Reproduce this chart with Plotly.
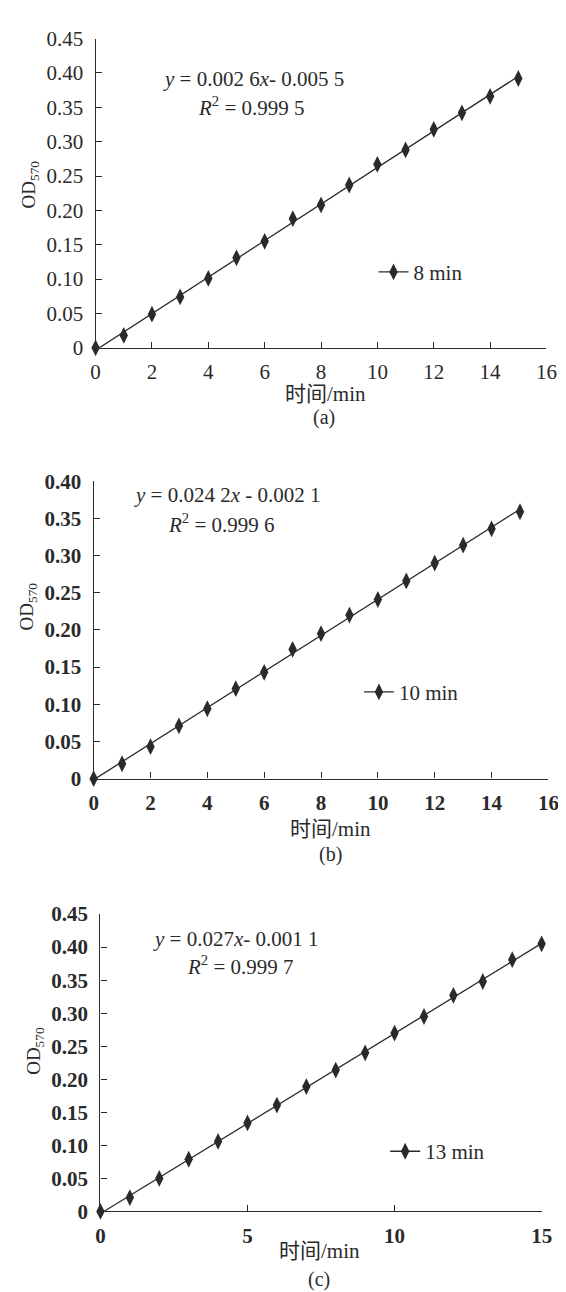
import numpy as np
import plotly.graph_objects as go

W, H = 566, 1292

# ---------------- data ----------------
time_min = list(range(16))
od_a = [0.000, 0.018, 0.049, 0.074, 0.101, 0.131, 0.155, 0.188, 0.208, 0.237,
        0.267, 0.288, 0.318, 0.342, 0.366, 0.392]
od_b = [0.000, 0.020, 0.043, 0.071, 0.094, 0.121, 0.143, 0.174, 0.195, 0.220,
        0.241, 0.266, 0.290, 0.314, 0.336, 0.359]
od_c = [0.000, 0.021, 0.050, 0.079, 0.106, 0.134, 0.161, 0.189, 0.214, 0.240,
        0.270, 0.295, 0.327, 0.348, 0.381, 0.405]

names = ["8 min", "10 min", "13 min"]
panel_labels = ["(a)", "(b)", "(c)"]
eq_texts = ["<i>y</i> = 0.002 6<i>x</i>- 0.005 5",
            "<i>y</i> = 0.024 2<i>x</i> - 0.002 1",
            "<i>y</i> = 0.027<i>x</i>- 0.001 1"]
r2_texts = ["<i>R</i><sup>2</sup> = 0.999 5",
            "<i>R</i><sup>2</sup> = 0.999 6",
            "<i>R</i><sup>2</sup> = 0.999 7"]
y_ticks_a = [0, 0.05, 0.10, 0.15, 0.20, 0.25, 0.30, 0.35, 0.40, 0.45]
y_ticks_b = [0, 0.05, 0.10, 0.15, 0.20, 0.25, 0.30, 0.35, 0.40]
y_ticks_c = [0, 0.05, 0.10, 0.15, 0.20, 0.25, 0.30, 0.35, 0.40, 0.45]
x_ticks_ab = [0, 2, 4, 6, 8, 10, 12, 14, 16]
x_ticks_c = [0, 5, 10, 15]
x_title = "时间/min"
y_title = "OD<sub>570</sub>"

# ---------------- layout geometry (pixels) ----------------
panels = [
    dict(x0=85, x1=549, y0=19, y1=334, xr=[0, 16], yr=[0, 0.45], yt=y_ticks_a, xt=x_ticks_ab,
         od=od_a, bold=False,
         eq=(152, 60), r2=(188, 88), leg=(371, 257),
         yt_pos=(17, 168), xt_pos=(322, 381), lab_pos=(320, 405)),
    dict(x0=83, x1=551, y0=470, y1=773, xr=[0, 16], yr=[0, 0.40], yt=y_ticks_b, xt=x_ticks_ab,
         od=od_b, bold=True,
         eq=(122, 484), r2=(157, 513), leg=(356, 685),
         yt_pos=(15, 598), xt_pos=(327, 824), lab_pos=(327, 850)),
    dict(x0=90, x1=544, y0=911, y1=1214, xr=[0, 15], yr=[0, 0.45], yt=y_ticks_c, xt=x_ticks_c,
         od=od_c, bold=True,
         eq=(142, 936), r2=(177, 963), leg=(383, 1153),
         yt_pos=(23, 1050), xt_pos=(315, 1254), lab_pos=(315, 1283)),
]

ink = "#2a2a2a"
serif = "Liberation Serif, Noto Sans CJK SC, serif"

def px(xp):
    return xp / W

def py(yp):
    return 1 - yp / H

fig = go.Figure()
annotations = []
layout = dict(width=W, height=H, autosize=False,
              margin=dict(l=0, r=0, t=0, b=0),
              paper_bgcolor="white", plot_bgcolor="white",
              font=dict(family=serif, color=ink))

for i, p in enumerate(panels):
    n = "" if i == 0 else str(i + 1)
    xa, ya = "x" + n, "y" + n
    leg_name = "legend" + n
    tick_font = dict(family=serif, size=21, color=ink,
                     weight="bold" if p["bold"] else "normal")

    # trend line from least-squares fit of the series
    m, b = np.polyfit(time_min, p["od"], 1)
    xs = max(0.0, -b / m)
    xfit = [xs, max(time_min)]
    yfit = [m * v + b for v in xfit]
    fig.add_trace(go.Scatter(x=xfit, y=yfit, mode="lines", xaxis=xa, yaxis=ya,
                             line=dict(color=ink, width=1.3), showlegend=False,
                             hoverinfo="skip"))
    fig.add_trace(go.Scatter(x=time_min, y=p["od"], mode="markers", xaxis=xa, yaxis=ya,
                             marker=dict(symbol="diamond-tall", size=12, color=ink),
                             showlegend=False, cliponaxis=False))
    # legend entry (line + marker)
    fig.add_trace(go.Scatter(x=[None], y=[None], mode="lines+markers", xaxis=xa, yaxis=ya,
                             name=names[i], legend=leg_name,
                             marker=dict(symbol="diamond-tall", size=12, color=ink),
                             line=dict(color=ink, width=1.3)))

    layout["xaxis" + n] = dict(domain=[px(p["x0"]), px(p["x1"])], range=p["xr"], anchor=ya,
                               tickvals=p["xt"], ticktext=[str(v) for v in p["xt"]],
                               ticks="inside", ticklen=6, tickcolor=ink, tickwidth=1.2,
                               showline=True, linecolor=ink, linewidth=1.3,
                               showgrid=False, zeroline=False, tickfont=tick_font,
                               ticklabelstandoff=5, fixedrange=True)
    layout["yaxis" + n] = dict(domain=[py(p["y1"]), py(p["y0"])], range=p["yr"], anchor=xa,
                               tickvals=p["yt"],
                               ticktext=["0" if v == 0 else f"{v:.2f}" for v in p["yt"]],
                               ticks="inside", ticklen=6, tickcolor=ink, tickwidth=1.2,
                               showline=True, linecolor=ink, linewidth=1.3,
                               showgrid=False, zeroline=False, tickfont=tick_font,
                               ticklabelstandoff=7, fixedrange=True)
    layout[leg_name] = dict(x=px(p["leg"][0]), y=py(p["leg"][1]), xanchor="left",
                            yanchor="middle", bgcolor="rgba(0,0,0,0)",
                            font=dict(family=serif, size=21, color=ink),
                            itemwidth=30, tracegroupgap=0)

    annotations += [
        dict(text=eq_texts[i], x=px(p["eq"][0]), y=py(p["eq"][1]), xref="paper", yref="paper",
             xanchor="left", yanchor="middle", showarrow=False,
             font=dict(family=serif, size=21, color=ink)),
        dict(text=r2_texts[i], x=px(p["r2"][0]), y=py(p["r2"][1]), xref="paper", yref="paper",
             xanchor="left", yanchor="middle", showarrow=False,
             font=dict(family=serif, size=21, color=ink)),
        dict(text=y_title, x=px(p["yt_pos"][0]), y=py(p["yt_pos"][1]), xref="paper",
             yref="paper", xanchor="center", yanchor="middle", textangle=-90,
             showarrow=False, font=dict(family=serif, size=19, color=ink)),
        dict(text=x_title, x=px(p["xt_pos"][0]), y=py(p["xt_pos"][1]), xref="paper",
             yref="paper", xanchor="center", yanchor="middle", showarrow=False,
             font=dict(family=serif, size=21, color=ink)),
        dict(text=panel_labels[i], x=px(p["lab_pos"][0]), y=py(p["lab_pos"][1]), xref="paper",
             yref="paper", xanchor="center", yanchor="middle", showarrow=False,
             font=dict(family=serif, size=20, color=ink)),
    ]

layout["annotations"] = annotations
fig.update_layout(**layout)
fig.write_html("out.html")
